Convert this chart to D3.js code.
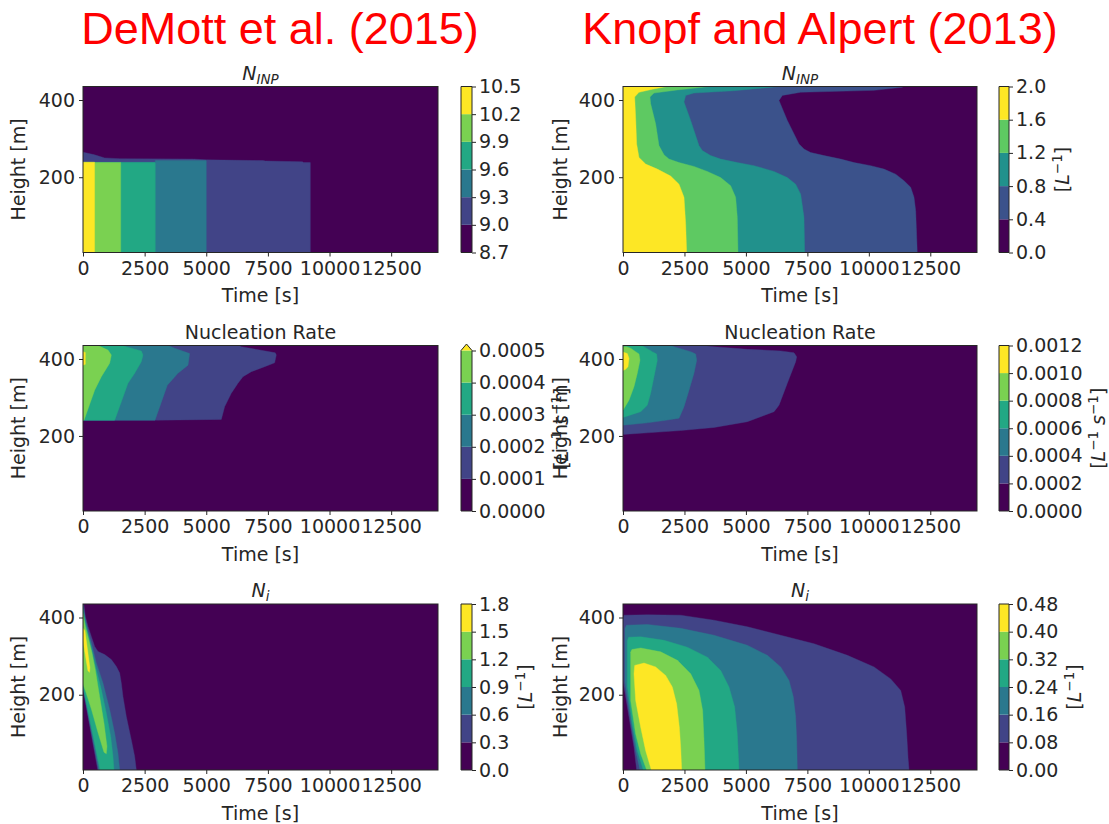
<!DOCTYPE html>
<html>
<head>
<meta charset="utf-8">
<script src="https://cdn.jsdelivr.net/npm/d3@7"></script>
<style>
  body { margin: 0; background: #fff; }
  svg text { font-family: "DejaVu Sans", sans-serif; }
</style>
</head>
<body>
<svg id="fig" width="1109" height="824"></svg>
<script>
// ---- shared axes ----
const timeDomain = [0, 14400];          // s
const heightDomain = [5, 435];          // m
const timeTicks = [0, 2500, 5000, 7500, 10000, 12500];
const heightTicks = [200, 400];

// ---- contour levels (colorbar ticks) ----
const demottInpLevels  = [8.7, 9.0, 9.3, 9.6, 9.9, 10.2, 10.5];
const knopfInpLevels   = [0.0, 0.4, 0.8, 1.2, 1.6, 2.0];
const demottRateLevels = [0.0000, 0.0001, 0.0002, 0.0003, 0.0004, 0.0005];
const knopfRateLevels  = [0.0000, 0.0002, 0.0004, 0.0006, 0.0008, 0.0010, 0.0012];
const demottNiLevels   = [0.0, 0.3, 0.6, 0.9, 1.2, 1.5, 1.8];
const knopfNiLevels    = [0.00, 0.08, 0.16, 0.24, 0.32, 0.40, 0.48];

// ---- filled contour regions: entry k outlines where value >= level k+1, as [time s, height m] ----
const demottInpBands = [
  [[0,5],[0,265],[470,258],[880,250],[1500,248],[4500,247],[5000,245],[7300,243],[7400,242],[8900,240],[8950,238],[9220,238],[9220,5]],
  [[0,5],[0,239],[2930,239],[2930,243],[5000,243],[5000,5]],
  [[0,5],[0,238],[2930,238],[2930,5]],
  [[0,5],[0,238],[1530,238],[1530,5]],
  [[0,5],[0,239],[470,239],[470,5]]
];
const knopfInpBands = [
  [[0,5],[11970,5],[11933,70],[11906,113],[11838,148],[11702,174],[11431,191],[11092,208],[10617,221],[10075,230],[9397,238],[8854,247],[8176,256],[7634,264],[7363,273],[7160,286],[6685,347],[6346,399],[6482,412],[7228,420],[10211,425],[11363,433],[11420,436],[0,436]],
  [[0,5],[7390,5],[7363,96],[7228,156],[7024,182],[6685,199],[6142,215],[5329,230],[4650,238],[3973,247],[3566,256],[3227,269],[3091,282],[2753,347],[2482,395],[2550,412],[2888,418],[4500,424],[6550,436],[0,436]],
  [[0,5],[4678,5],[4650,96],[4582,148],[4379,178],[3973,199],[3431,215],[2888,228],[2278,238],[1871,247],[1668,258],[1464,282],[1329,338],[1125,390],[1098,408],[1261,418],[2200,426],[3700,436],[0,436]],
  [[0,5],[2590,5],[2550,79],[2482,148],[2278,182],[1939,203],[1397,221],[922,234],[651,251],[556,286],[515,355],[475,408],[651,420],[1200,428],[1870,436],[0,436]]
];
const demottRateBands = [
  [[0,241],[3000,241],[5610,243],[5745,276],[6016,311],[6286,337],[6489,354],[6827,367],[7368,380],[7773,390],[7841,410],[7800,416],[6421,432],[6300,436],[0,436]],
  [[0,241],[2920,241],[3420,332],[3853,363],[4259,384],[4326,414],[3718,428],[3400,436],[0,436]],
  [[0,241],[1285,241],[1825,337],[2096,363],[2366,393],[2434,410],[2366,421],[1690,433],[1600,436],[0,436]],
  [[0,241],[41,241],[473,319],[744,354],[1082,389],[1150,410],[1014,423],[676,433],[600,436],[0,436]],
  [[0,384],[95,386],[95,417],[0,419]]
];
const knopfRateBands = [
  [[0,204],[990,208],[2346,214],[3702,222],[5058,237],[6143,263],[6346,280],[6685,337],[7024,393],[7065,406],[6956,416],[6414,421],[5058,425],[3702,432],[3000,436],[0,436]],
  [[0,228],[990,234],[1668,240],[2278,246],[2482,276],[2685,319],[2888,363],[2997,397],[2956,413],[2753,419],[2075,432],[1900,436],[0,436]],
  [[0,248],[719,263],[990,280],[1125,311],[1261,354],[1396,397],[1369,413],[1193,419],[854,432],[700,436],[0,436]],
  [[0,267],[244,293],[447,328],[583,363],[692,397],[651,413],[515,419],[312,428],[150,432],[0,432]],
  [[0,418],[176,414],[244,402],[203,380],[108,373],[0,370]]
];
const demottNiBands = [
  [[0,436],[30,436],[95,403],[203,377],[338,351],[473,325],[608,312],[879,304],[1149,291],[1352,273],[1487,256],[1555,230],[1622,195],[1758,143],[1960,83],[2096,40],[2163,5],[600,5],[0,214]],
  [[0,432],[95,395],[203,364],[338,334],[540,282],[811,230],[1082,161],[1284,100],[1420,48],[1487,5],[640,5],[0,218]],
  [[0,422],[95,386],[203,356],[338,321],[540,264],[744,213],[946,152],[1122,92],[1217,40],[1257,5],[690,5],[0,222]],
  [[0,410],[95,377],[230,343],[365,308],[500,264],[676,195],[852,126],[973,66],[946,47],[852,51],[608,102],[338,163],[135,203],[0,228]],
  [[0,372],[80,366],[180,318],[280,270],[265,258],[200,262],[100,300],[0,340]]
];
const knopfNiBands = [
  [[0,237],[0,397],[41,406],[990,407],[2346,406],[3702,393],[5058,376],[6414,354],[7770,332],[9126,302],[10211,272],[10889,241],[11296,211],[11459,168],[11540,98],[11594,38],[11635,5],[556,5],[447,64],[244,142]],
  [[81,233],[81,372],[140,380],[990,382],[2346,372],[3702,354],[5058,328],[5872,302],[6414,272],[6753,237],[6929,194],[7024,142],[7065,81],[7092,5],[692,5],[515,55],[312,133]],
  [[176,224],[176,340],[230,349],[719,350],[1668,341],[2617,323],[3431,297],[3973,263],[4311,220],[4542,168],[4650,98],[4718,5],[827,5],[583,55],[380,124]],
  [[312,185],[312,310],[360,317],[719,321],[1532,311],[2210,289],[2753,254],[3091,211],[3240,159],[3295,81],[3336,5],[963,5],[719,47],[515,98]],
  [[447,254],[475,276],[854,282],[1329,272],[1735,250],[2007,220],[2183,176],[2292,116],[2346,64],[2387,5],[1152,5],[922,55],[719,116],[515,185]]
];

const headings = ["DeMott et al. (2015)", "Knopf and Alpert (2013)"];

// ---- layout ----
const FS = 19;
const INK = "#262626";
const cols = [
  { x0: 83,  x1: 438, cb: 461, cbW: 11, ylab: 18,  head: 280 },
  { x0: 623, x1: 977, cb: 999, cbW: 10, ylab: 560, head: 820 }
];
const rows = [
  { y0: 86.5,  y1: 252.5 },
  { y0: 345.5, y1: 511 },
  { y0: 604,   y1: 770 }
];

const panels = [
  { col: 0, row: 0, title: "inp",  levels: demottInpLevels,  bands: demottInpBands,  fmt: ".1f", unit: null },
  { col: 1, row: 0, title: "inp",  levels: knopfInpLevels,   bands: knopfInpBands,   fmt: ".1f", unit: "L" },
  { col: 0, row: 1, title: "rate", levels: demottRateLevels, bands: demottRateBands, fmt: ".4f", unit: "Ls", extendMax: true },
  { col: 1, row: 1, title: "rate", levels: knopfRateLevels,  bands: knopfRateBands,  fmt: ".4f", unit: "Ls" },
  { col: 0, row: 2, title: "ni",   levels: demottNiLevels,   bands: demottNiBands,   fmt: ".1f", unit: "L" },
  { col: 1, row: 2, title: "ni",   levels: knopfNiLevels,    bands: knopfNiBands,    fmt: ".2f", unit: "L" }
];

const svg = d3.select("#fig");
svg.append("rect").attr("width", 1109).attr("height", 824).attr("fill", "#fff");
const defs = svg.append("defs");

// column headings
headings.forEach((h, i) => {
  svg.append("text")
    .attr("x", cols[i].head).attr("y", 44)
    .attr("text-anchor", "middle")
    .style("font-family", "'Liberation Sans', Arial, sans-serif")
    .attr("font-size", 45)
    .attr("fill", "#ff0000")
    .text(h);
});

function styleAxis(g) {
  g.attr("font-size", FS).attr("font-family", null);
  g.selectAll("path.domain").remove();
  g.selectAll(".tick line").attr("stroke", INK);
  g.selectAll(".tick text").attr("fill", INK);
}

function drawTitle(g, kind, cx, y) {
  const t = g.append("text").attr("x", cx).attr("y", y).attr("text-anchor", "middle")
    .attr("font-size", FS).attr("fill", INK);
  if (kind === "rate") { t.text("Nucleation Rate"); return; }
  t.append("tspan").attr("font-style", "italic").text("N");
  t.append("tspan").attr("font-style", "italic").attr("font-size", 13.5).attr("dy", 4)
    .text(kind === "inp" ? "INP" : "i");
}

function drawUnit(g, kind, cx, cy) {
  const t = g.append("text").attr("text-anchor", "middle")
    .attr("transform", `translate(${cx},${cy}) rotate(-90)`)
    .attr("dy", "0.35em").attr("font-size", FS).attr("fill", INK);
  t.append("tspan").text("[");
  t.append("tspan").attr("font-style", "italic").text("L");
  t.append("tspan").attr("font-size", 13.5).attr("dy", -7).text("\u22121");
  if (kind === "Ls") {
    t.append("tspan").attr("dy", 7).text("\u00a0");
    t.append("tspan").attr("font-style", "italic").text("s");
    t.append("tspan").attr("font-size", 13.5).attr("dy", -7).text("\u22121");
  }
  t.append("tspan").attr("dy", 7).text("]");
}

panels.forEach((p, i) => {
  const c = cols[p.col], r = rows[p.row];
  const x = d3.scaleLinear().domain(timeDomain).range([c.x0, c.x1]);
  const y = d3.scaleLinear().domain(heightDomain).range([r.y1, r.y0]);
  const nColors = p.levels.length - 1 + (p.extendMax ? 1 : 0);
  const color = k => d3.interpolateViridis(k / (nColors - 1));
  const g = svg.append("g");

  // filled contours
  const clipId = "clip" + i;
  defs.append("clipPath").attr("id", clipId).append("rect")
    .attr("x", c.x0).attr("y", r.y0).attr("width", c.x1 - c.x0).attr("height", r.y1 - r.y0);
  const plot = g.append("g").attr("clip-path", `url(#${clipId})`);
  plot.append("rect").attr("x", c.x0).attr("y", r.y0)
    .attr("width", c.x1 - c.x0).attr("height", r.y1 - r.y0).attr("fill", color(0));
  const line = d3.line().x(d => x(d[0])).y(d => y(d[1]));
  plot.selectAll("path.band").data(p.bands).join("path")
    .attr("class", "band")
    .attr("d", d => line(d) + "Z")
    .attr("fill", (d, k) => color(k + 1))
    .attr("stroke", (d, k) => color(k + 1)).attr("stroke-width", 0.4);

  // frame
  g.append("rect").attr("x", c.x0).attr("y", r.y0)
    .attr("width", c.x1 - c.x0).attr("height", r.y1 - r.y0)
    .attr("fill", "none").attr("stroke", INK).attr("stroke-width", 1);

  // axes
  g.append("g").attr("transform", `translate(0,${r.y1})`)
    .call(d3.axisBottom(x).tickValues(timeTicks).tickFormat(d3.format("d")).tickSize(4).tickPadding(5))
    .call(styleAxis);
  g.append("g").attr("transform", `translate(${c.x0},0)`)
    .call(d3.axisLeft(y).tickValues(heightTicks).tickFormat(d3.format("d")).tickSize(4).tickPadding(4))
    .call(styleAxis);

  g.append("text").attr("x", (c.x0 + c.x1) / 2).attr("y", r.y1 + 49.5)
    .attr("text-anchor", "middle").attr("font-size", FS).attr("fill", INK).text("Time [s]");
  g.append("text").attr("text-anchor", "middle")
    .attr("transform", `translate(${c.ylab},${(r.y0 + r.y1) / 2}) rotate(-90)`)
    .attr("dy", "0.35em").attr("font-size", FS).attr("fill", INK).text("Height [m]");

  drawTitle(g, p.title, (c.x0 + c.x1) / 2, r.y0 - 7);

  // colorbar
  const cbTop = p.extendMax ? r.y0 + 5 : r.y0;
  const cs = d3.scaleLinear().domain([p.levels[0], p.levels[p.levels.length - 1]]).range([r.y1, cbTop]);
  const cb = g.append("g");
  cb.selectAll("rect").data(d3.range(p.levels.length - 1)).join("rect")
    .attr("x", c.cb).attr("width", c.cbW)
    .attr("y", k => cs(p.levels[k + 1]))
    .attr("height", k => cs(p.levels[k]) - cs(p.levels[k + 1]))
    .attr("fill", k => color(k));
  let outline;
  if (p.extendMax) {
    cb.append("path")
      .attr("d", `M${c.cb},${cbTop}L${c.cb + c.cbW / 2},${r.y0 - 1.5}L${c.cb + c.cbW},${cbTop}Z`)
      .attr("fill", color(nColors - 1));
    outline = `M${c.cb},${r.y1}L${c.cb},${cbTop}L${c.cb + c.cbW / 2},${r.y0 - 1.5}L${c.cb + c.cbW},${cbTop}L${c.cb + c.cbW},${r.y1}Z`;
  } else {
    outline = `M${c.cb},${r.y1}L${c.cb},${r.y0}L${c.cb + c.cbW},${r.y0}L${c.cb + c.cbW},${r.y1}Z`;
  }
  cb.append("path").attr("d", outline).attr("fill", "none").attr("stroke", INK).attr("stroke-width", 1);
  const cbAxis = cb.append("g").attr("transform", `translate(${c.cb + c.cbW},0)`)
    .call(d3.axisRight(cs).tickValues(p.levels).tickFormat(d3.format(p.fmt)).tickSize(4).tickPadding(3))
    .call(styleAxis);

  if (p.unit) {
    const bb = cbAxis.node().getBBox();
    const right = c.cb + c.cbW + bb.x + bb.width;
    drawUnit(cb, p.unit, right + 16, (r.y0 + r.y1) / 2);
  }
});
</script>
</body>
</html>
